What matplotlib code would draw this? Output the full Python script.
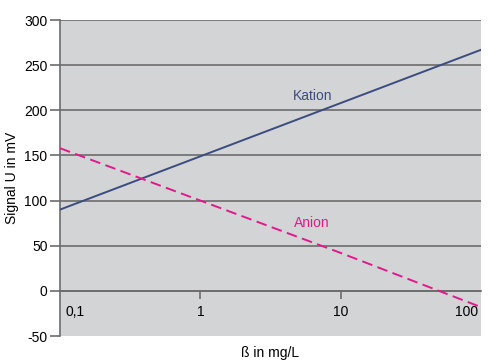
import numpy as np
import matplotlib.pyplot as plt
import matplotlib.transforms as mtransforms

plt.rcParams['font.family'] = ['Liberation Sans', 'DejaVu Sans']
plt.rcParams['axes.unicode_minus'] = False

# concentration in mg/L and signal in mV
conc = [0.1, 1, 10, 100]
kation = [90, 149, 208, 267]
anion = [158, 100, 42, -18]

xtick_vals = [0.1, 1, 10, 100]
xtick_labels = ['0,1', '1', '10', '100']
ytick_vals = [-50, 0, 50, 100, 150, 200, 250, 300]

c_kat = '#3b4d80'
c_an = '#e2198b'
grid_c = '#6c6c6c'
fs = 10

fig = plt.figure(figsize=(5.04, 3.63), dpi=100)
ax = fig.add_axes([60 / 504, 27 / 363, 421 / 504, 316 / 363])
ax.set_facecolor('#d3d4d6')

ax.set_xscale('log')
ax.set_xlim(0.1, 100)
ax.set_ylim(-50, 300)

# horizontal grid lines
for v in ytick_vals[1:]:
    ax.axhline(v, color=grid_c, lw=1.2, zorder=1)

ax.plot(conc, kation, color=c_kat, lw=1.4, zorder=3)
ax.plot(conc, anion, color=c_an, lw=1.4, ls=(0, (5.5, 2.8)), zorder=3)

ax.text(6.3, 216, 'Kation', color=c_kat, fontsize=fs, ha='center', va='center')
ax.text(6.2, 75, 'Anion', color=c_an, fontsize=fs, ha='center', va='center')

# spines
for s in ['top', 'right']:
    ax.spines[s].set_visible(False)
ax.spines['left'].set_color(grid_c)
ax.spines['left'].set_linewidth(1.2)
ax.spines['bottom'].set_position(('data', 0))
ax.spines['bottom'].set_color(grid_c)
ax.spines['bottom'].set_linewidth(1.2)

ax.set_yticks(ytick_vals)
ax.tick_params(axis='y', direction='out', length=7, width=1.2, color=grid_c,
               labelsize=fs, pad=2)

ax.set_xticks(xtick_vals)
ax.set_xticklabels(xtick_labels)
ax.xaxis.set_minor_locator(plt.NullLocator())
ax.tick_params(axis='x', direction='out', length=6, width=1.2, color=grid_c,
               labelsize=fs, pad=4)
ticks = ax.xaxis.get_major_ticks()
ticks[0].tick1line.set_visible(False)
ticks[-1].tick1line.set_visible(False)
labs = ax.get_xticklabels()
labs[0].set_ha('left')
labs[0].set_transform(labs[0].get_transform() + mtransforms.ScaledTranslation(6 / 100, 0, fig.dpi_scale_trans))
labs[-1].set_ha('right')
labs[-1].set_transform(labs[-1].get_transform() + mtransforms.ScaledTranslation(-3 / 100, 0, fig.dpi_scale_trans))

ax.set_ylabel('Signal U in mV', fontsize=fs, labelpad=4)
fig.text(270 / 504, 1 - 353 / 363, 'ß in mg/L', fontsize=fs, ha='center', va='center')

fig.savefig('out.png', dpi=100)
